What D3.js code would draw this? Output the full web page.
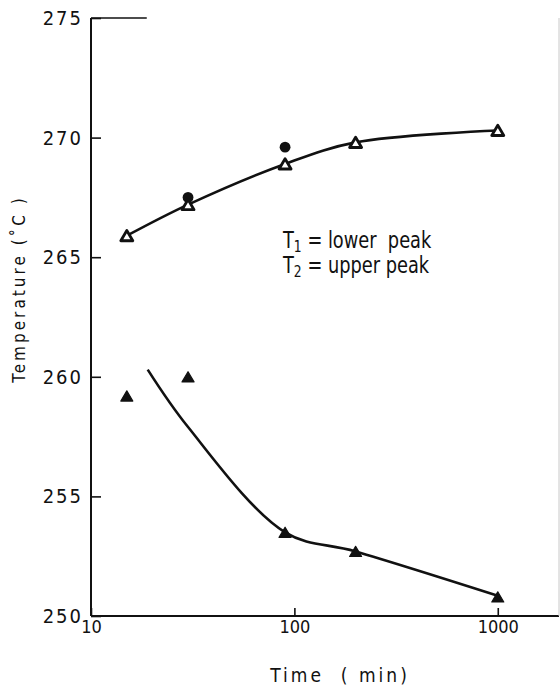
<!DOCTYPE html>
<html>
<head>
<meta charset="utf-8">
<script src="https://cdn.jsdelivr.net/npm/d3@7"></script>
<style>
  html, body { margin: 0; padding: 0; background: #fff; }
  svg { display: block; }
  text { font-family: "DejaVu Sans Condensed", "Liberation Sans Narrow", "Liberation Sans", sans-serif; fill: #111; }
</style>
</head>
<body>
<svg id="chart" width="560" height="685"></svg>
<script>
// Annealing time (min) and DSC peak temperatures (°C)
const times = [15, 30, 90, 200, 1000];
const upperPeak = [265.9, 267.2, 268.9, 269.8, 270.3];   // T2, open triangles
const lowerPeak = [259.2, 260.0, 253.5, 252.7, 250.8];   // T1, filled triangles
const circleTimes = [30, 90];
const circleTemps = [267.5, 269.6];                        // filled circles

// Hand-drawn trend curves (time, temperature)
const upperCurveTimes = [15, 30, 90, 200, 1000];
const upperCurveTemps = [265.9, 267.2, 268.9, 269.8, 270.3];
const lowerCurveTimes = [19, 30, 90, 200, 1000];
const lowerCurveTemps = [260.3, 257.9, 253.5, 252.7, 250.85];

const xTicks = [10, 100, 1000];
const xTickLabels = ["10", "100", "1000"];
const yTicks = [250, 255, 260, 265, 270, 275];
const yTickLabels = ["250", "255", "260", "265", "270", "275"];

const svg = d3.select("#chart");
const x = d3.scaleLog().domain([10, 2000]).range([91, 559]);
const y = d3.scaleLinear().domain([250, 275]).range([616, 18]);

const ink = "#111";

// Y axis with inward ticks
const yAxis = svg.append("g")
  .attr("transform", `translate(${x(10)},0)`)
  .call(d3.axisLeft(y).tickValues(yTicks)
    .tickFormat((d, i) => yTickLabels[i]).tickSize(-10).tickPadding(8));
yAxis.select(".domain").attr("stroke", ink).attr("stroke-width", 2)
  .attr("d", `M0,${y(275)}V${y(250)}`);
yAxis.selectAll(".tick line").attr("stroke", ink).attr("stroke-width", 1.6);
yAxis.selectAll(".tick text")
  .attr("font-size", 20).attr("letter-spacing", 2)
  .style("font-family", '"DejaVu Sans Condensed", sans-serif')
  .attr("fill", ink);

// X axis (log) with inward ticks
const xAxis = svg.append("g")
  .attr("transform", `translate(0,${y(250)})`)
  .call(d3.axisBottom(x).tickValues(xTicks)
    .tickFormat((d, i) => xTickLabels[i]).tickSize(-8).tickPadding(4));
xAxis.select(".domain").attr("stroke", ink).attr("stroke-width", 2)
  .attr("d", `M${x(10)},0H${x(2000)}`);
xAxis.selectAll(".tick line").attr("stroke", ink).attr("stroke-width", 1.6);
xAxis.selectAll(".tick text")
  .attr("font-size", 18).attr("letter-spacing", 0)
  .style("font-family", '"DejaVu Sans Condensed", sans-serif')
  .attr("fill", ink);

// Remaining frame: short top edge and faint right edge
svg.append("line")
  .attr("x1", x(10)).attr("x2", x(18.8)).attr("y1", y(275)).attr("y2", y(275))
  .attr("stroke", ink).attr("stroke-width", 1.6);
svg.append("line")
  .attr("x1", x(2000)).attr("x2", x(2000)).attr("y1", y(275)).attr("y2", y(250))
  .attr("stroke", "#c8c8c8").attr("stroke-width", 1);

// Axis titles
svg.append("text")
  .attr("transform", `translate(25,289) rotate(-90)`)
  .attr("text-anchor", "middle")
  .attr("font-size", 17).attr("letter-spacing", 3)
  .style("white-space", "pre")
  .text("Temperature (˚C )");

svg.append("text")
  .attr("x", 340).attr("y", 682)
  .attr("text-anchor", "middle")
  .attr("font-size", 19).attr("letter-spacing", 3)
  .style("white-space", "pre")
  .text("Time  ( min)");

// Trend curves
const curve = d3.line().x(d => x(d[0])).y(d => y(d[1])).curve(d3.curveCatmullRom.alpha(0.5));
svg.append("path")
  .attr("d", curve(d3.zip(upperCurveTimes, upperCurveTemps)))
  .attr("fill", "none").attr("stroke", ink).attr("stroke-width", 2.6);
svg.append("path")
  .attr("d", curve(d3.zip(lowerCurveTimes, lowerCurveTemps)))
  .attr("fill", "none").attr("stroke", ink).attr("stroke-width", 2.6);

// Triangle marker path centred on the point
function tri(cx, cy, s) {
  const h = s * 0.85;
  return `M${cx},${cy - h / 2}L${cx + s / 2},${cy + h / 2}L${cx - s / 2},${cy + h / 2}Z`;
}

svg.append("g").selectAll("path")
  .data(d3.zip(times, lowerPeak))
  .join("path")
  .attr("d", d => tri(x(d[0]), y(d[1]), 12))
  .attr("fill", ink).attr("stroke", ink).attr("stroke-width", 1.2).attr("stroke-linejoin", "round");

svg.append("g").selectAll("circle")
  .data(d3.zip(circleTimes, circleTemps))
  .join("circle")
  .attr("cx", d => x(d[0])).attr("cy", d => y(d[1])).attr("r", 5.4)
  .attr("fill", ink);

svg.append("g").selectAll("path")
  .data(d3.zip(times, upperPeak))
  .join("path")
  .attr("d", d => tri(x(d[0]), y(d[1]), 12))
  .attr("fill", "#fff").attr("stroke", ink).attr("stroke-width", 2.8).attr("stroke-linejoin", "round");

// Legend text, narrowed horizontally
const legend = [
  { sub: "1", rest: " = lower  peak", y: 248 },
  { sub: "2", rest: " = upper peak", y: 273 }
];
legend.forEach(l => {
  const t = svg.append("text")
    .attr("transform", `translate(283,${l.y}) scale(0.86,1)`)
    .attr("font-size", 23).style("white-space", "pre");
  t.append("tspan").text("T");
  t.append("tspan").attr("font-size", 16).attr("dy", 4).text(l.sub);
  t.append("tspan").attr("dy", -4).text(l.rest);
});
</script>
</body>
</html>
